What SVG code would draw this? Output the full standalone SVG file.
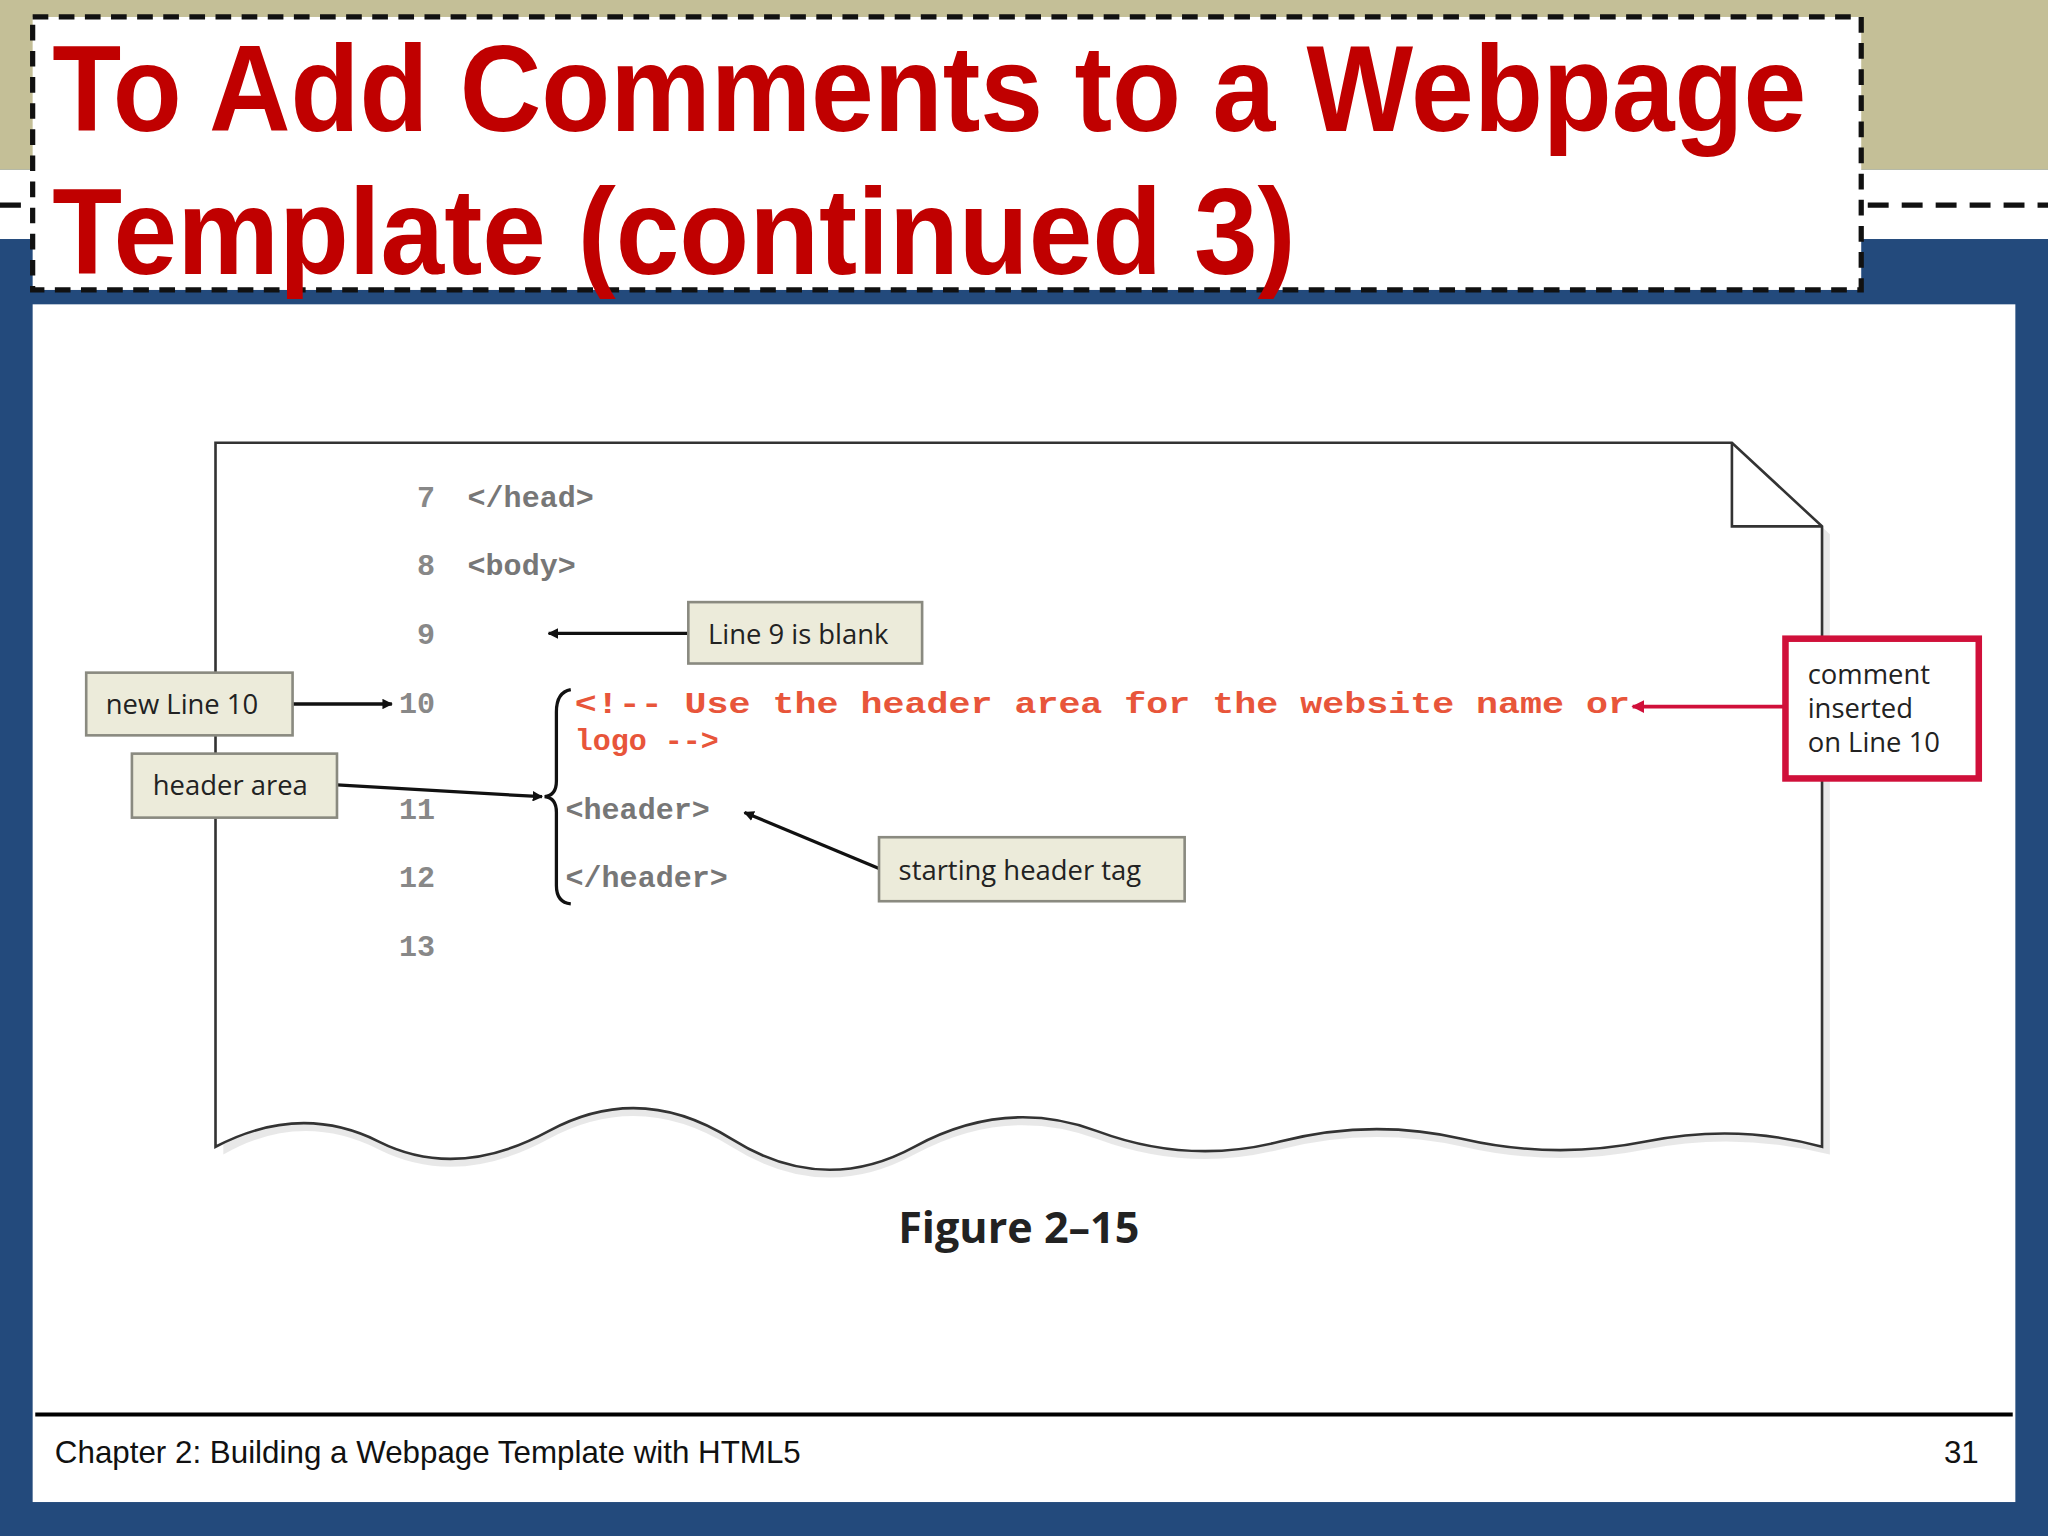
<svg xmlns="http://www.w3.org/2000/svg" width="2048" height="1536" viewBox="0 0 2048 1536">
<defs>
<style>
.code{font-family:"Liberation Mono","DejaVu Sans Mono",monospace;font-weight:bold;font-size:23px;fill:#777}
.red{fill:#e8553a}
.num{font-family:"Liberation Mono",monospace;font-weight:bold;font-size:23px;fill:#888;text-anchor:end}
.call rect{fill:#ecebda;stroke:#8a8a80;stroke-width:2}
.call text{font-family:"Open Sans","Noto Sans",sans-serif;font-size:21px;fill:#222}
.title{font-family:"Liberation Sans",Arial,sans-serif;font-weight:bold;font-size:94px;fill:#c00000}
.ln{stroke:#111;stroke-width:2.5;fill:none}
</style>
<marker id="ah" viewBox="0 0 10 10" refX="9" refY="5" markerWidth="8" markerHeight="8" orient="auto" markerUnits="userSpaceOnUse"><path d="M0,0L10,5L0,10z" fill="#111"/></marker>
<marker id="ahr" viewBox="0 0 10 10" refX="9" refY="5" markerWidth="10" markerHeight="10" orient="auto" markerUnits="userSpaceOnUse"><path d="M0,0L10,5L0,10z" fill="#d0103a"/></marker>
</defs>
<g transform="scale(1.306122)">
<rect x="0" y="0" width="1568" height="1176" fill="#234a7c"/>
<rect x="0" y="0" width="1568" height="130" fill="#c4bf97"/>
<rect x="0" y="130" width="1568" height="53" fill="#ffffff"/>
<line x1="0" y1="157" x2="1568" y2="157" stroke="#111" stroke-width="4" stroke-dasharray="16,10"/>
<rect x="25" y="233" width="1518" height="917" fill="#ffffff"/>
<g id="title">
<rect x="25" y="13" width="1400" height="209" fill="#ffffff" stroke="#111" stroke-width="4" stroke-dasharray="12,8"/>
<text class="title" x="40" y="100" textLength="1343" lengthAdjust="spacingAndGlyphs">To Add Comments to a Webpage</text>
<text class="title" x="40" y="210" textLength="952" lengthAdjust="spacingAndGlyphs">Template (continued 3)</text>
</g>
<g id="page">
<path d="M171,345 H1332 L1401,409 V884 Q1330,866 1260,880 T1120,878 T980,880 T840,872 T700,884 T560,878 T420,872 T290,880 T171,884 Z" fill="#d8d8d8" opacity="0.6"/>
<path d="M165,339 H1326 L1395,403 V878 Q1330,860 1260,874 T1120,872 T980,874 T840,866 T700,878 T560,872 T420,866 T290,874 T165,878 Z" fill="#ffffff" stroke="#333" stroke-width="2"/>
<path d="M1326,339 V403 H1395" fill="none" stroke="#333" stroke-width="2"/>
</g>
<g id="code">
<text class="num" x="333" y="388">7</text>
<text class="code" x="358" y="388">&lt;/head&gt;</text>
<text class="num" x="333" y="440">8</text>
<text class="code" x="358" y="440">&lt;body&gt;</text>
<text class="num" x="333" y="493">9</text>
<text class="num" x="333" y="546">10</text>
<text class="code red" x="440" y="546" textLength="808" lengthAdjust="spacingAndGlyphs">&lt;!-- Use the header area for the website name or</text>
<text class="code red" x="440" y="574">logo --&gt;</text>
<text class="num" x="333" y="627">11</text>
<text class="code" x="433" y="627">&lt;header&gt;</text>
<text class="num" x="333" y="679">12</text>
<text class="code" x="433" y="679">&lt;/header&gt;</text>
<text class="num" x="333" y="732">13</text>
<path d="M437,528 Q426,530 426,545 V598 Q426,609 417,610 Q426,611 426,622 V678 Q426,691 437,692" class="ln" stroke-width="3"/>
</g>
<g id="connectors">
<line class="ln" x1="527" y1="485" x2="420" y2="485" marker-end="url(#ah)"/>
<line class="ln" x1="224" y1="539" x2="300" y2="539" marker-end="url(#ah)"/>
<line class="ln" x1="258" y1="601" x2="415" y2="610" marker-end="url(#ah)"/>
<line class="ln" x1="673" y1="665" x2="570" y2="622" marker-end="url(#ah)"/>
<line x1="1366" y1="541" x2="1250" y2="541" stroke="#d0103a" stroke-width="3" marker-end="url(#ahr)"/>
</g>
<g id="c1" class="call"><rect x="527" y="461" width="179" height="47"/><text x="542" y="493">Line 9 is blank</text></g>
<g id="c2" class="call"><rect x="66" y="515" width="158" height="48"/><text x="81" y="547">new Line 10</text></g>
<g id="c3" class="call"><rect x="101" y="577" width="157" height="49"/><text x="117" y="609">header area</text></g>
<g id="c4" class="call"><rect x="673" y="641" width="234" height="49"/><text x="688" y="674">starting header tag</text></g>
<g id="c5" class="call"><rect x="1367" y="489" width="148" height="107" fill="#fff" style="fill:#fff;stroke:#d0103a;stroke-width:5"/><text x="1384" y="524">comment</text><text x="1384" y="550">inserted</text><text x="1384" y="576">on Line 10</text></g>
<text x="780" y="952" text-anchor="middle" font-family="'Open Sans','Noto Sans',sans-serif" font-weight="bold" font-size="33" fill="#222">Figure 2–15</text>
<g id="footer">
<line x1="27" y1="1083" x2="1541" y2="1083" stroke="#000" stroke-width="3"/>
<text x="42" y="1120" font-family="'Liberation Sans',Arial,sans-serif" font-size="24" fill="#111">Chapter 2: Building a Webpage Template with HTML5</text>
<text x="1515" y="1120" text-anchor="end" font-family="'Liberation Sans',Arial,sans-serif" font-size="24" fill="#111">31</text>
</g>
</g>
</svg>
